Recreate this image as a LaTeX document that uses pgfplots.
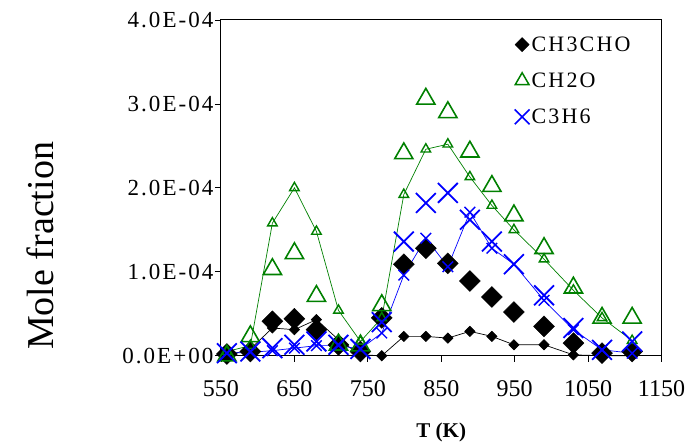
\documentclass[border=0pt]{standalone}
\usepackage{pgfplots}
\pgfplotsset{compat=1.18}
\usepackage{fontspec}
\setmainfont{Liberation Serif}
\definecolor{dgreen}{RGB}{0,128,0}
\definecolor{pblue}{RGB}{0,0,255}
\pgfplotstableread{
T      ace_e  ace_m  form_e form_m prop_e prop_m
558    0.02   0.00   0.00   0.05   0.03   0.03
590    0.05   0.08   0.23   0.12   0.05   0.04
620    0.41   0.33   1.03   1.58   0.09   0.06
650    0.44   0.31   1.22   2.00   0.13   0.09
680    0.31   0.43   0.71   1.48   0.17   0.12
710    0.13   0.19   0.13   0.54   0.13   0.12
740    0.05   0.01   0.12   0.17   0.08   0.08
769    0.45   0.00   0.60   0.45   0.40   0.27
799    1.09   0.23   2.41   1.92   1.36   0.96
829    1.28   0.23   3.06   2.46   1.82   1.40
859    1.10   0.21   2.90   2.52   1.94   1.06
889    0.89   0.29   2.43   2.13   1.62   1.71
919    0.70   0.23   2.02   1.79   1.36   1.28
949    0.52   0.13   1.67   1.50   1.09   1.09
990    0.35   0.13   1.28   1.15   0.72   0.66
1030   0.15   0.01   0.81   0.78   0.33   0.31
1069   0.03   0.00   0.45   0.45   0.07   0.07
1110   0.05   0.00   0.45   0.18   0.17   0.03
}\datatable
\begin{document}
\begin{tikzpicture}
\path[use as bounding box] (-221pt,-90.3pt) rectangle (479pt,355.7pt);
\begin{axis}[
  at={(0pt,0pt)}, anchor=south west,
  scale only axis, width=440.5pt, height=335.7pt,
  xmin=550, xmax=1150, ymin=0, ymax=4,
  xtick={550,650,750,850,950,1050,1150},
  xticklabels={550,650,750,850,950,1050,1150},
  ytick={0,1,2,3,4},
  yticklabels={0.0E+00,1.0E-04,2.0E-04,3.0E-04,4.0E-04},
  scaled y ticks=false,
  xtick pos=bottom, ytick pos=left,
  tick align=outside, major tick length=6pt,
  tick style={black, line width=0.8pt},
  axis line style={black, line width=1pt},
  xticklabel style={font=\fontsize{24}{28}\selectfont, yshift=-15pt},
  yticklabel style={font=\fontsize{23}{27}\selectfont\addfontfeatures{LetterSpace=9}, xshift=2pt},
  xlabel={\textbf{T (K)}},
  ylabel={Mole fraction},
  xlabel style={font=\fontsize{21}{25}\selectfont, at={(axis description cs:0.5,-0.23)}, anchor=center},
  ylabel style={font=\fontsize{38}{44}\selectfont, at={(axis description cs:-0.411,0.327)}, anchor=center},
  clip=false,
  legend cell align=left,
  legend style={draw=none, fill=none, font=\fontsize{22}{26}\selectfont\addfontfeatures{LetterSpace=10},
    at={(axis description cs:0.6595,0.963)}, anchor=north west, row sep=16pt},
  legend image code/.code={\path[draw=none,fill=none] (0pt,-1pt) rectangle (12pt,1pt); \draw[#1] plot coordinates {(6pt,0pt)};},
]
\addlegendimage{only marks, mark=square*, mark size=5pt, mark options={rotate=45, fill=black, draw=black}}
\addlegendentry{CH3CHO}
\addlegendimage{only marks, mark=triangle, mark size=8pt, mark options={draw=dgreen, line width=1.5pt}}
\addlegendentry{CH2O}
\addlegendimage{only marks, mark=x, mark size=10.5pt, mark options={draw=pblue, line width=1.6pt}}
\addlegendentry{C3H6}
% CH3CHO
\addplot[forget plot, only marks, mark=square*, mark size=7.4pt, mark options={rotate=45, fill=black, draw=black}] table[x=T, y=ace_e] {\datatable};
\addplot[forget plot, black, line width=0.7pt, mark=square*, mark size=3.6pt, mark options={rotate=45, fill=black, draw=black}] table[x=T, y=ace_m] {\datatable};
% CH2O
\addplot[forget plot, only marks, mark=triangle, mark size=10.5pt, mark options={draw=dgreen, line width=1.6pt}] table[x=T, y=form_e] {\datatable};
\addplot[forget plot, dgreen, line width=0.7pt, mark=triangle, mark size=5.5pt, mark options={draw=dgreen, line width=1.4pt}] table[x=T, y=form_m] {\datatable};
% C3H6
\addplot[forget plot, only marks, mark=x, mark size=14pt, mark options={draw=pblue, line width=1.8pt}] table[x=T, y=prop_e] {\datatable};
\addplot[forget plot, pblue, line width=0.7pt, mark=x, mark size=7.5pt, mark options={draw=pblue, line width=1.4pt}] table[x=T, y=prop_m] {\datatable};
\end{axis}
\end{tikzpicture}
\end{document}
